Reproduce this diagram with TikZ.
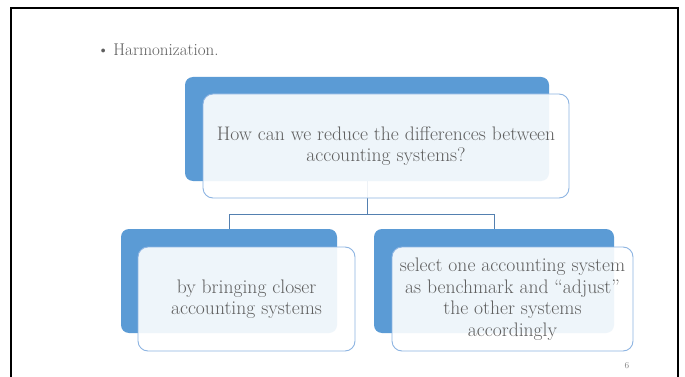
\documentclass[tikz,border=0pt]{standalone}
\usetikzlibrary{positioning}
\definecolor{backblue}{RGB}{91,155,213}
\definecolor{frontline}{RGB}{141,180,226}
\definecolor{conn}{RGB}{84,128,176}
\definecolor{txt}{RGB}{95,95,95}
\tikzset{
  backbox/.style={draw=none, fill=backblue, rounded corners=8pt, inner sep=0pt},
  frontbox/.style={draw=frontline, line width=0.9pt, fill=white, fill opacity=0.9, text opacity=1,
     rounded corners=10pt, inner sep=0pt, align=center, text=txt,
     font=\fontsize{19.6}{21.5}\selectfont},
  connector/.style={draw=conn, line width=0.8pt},
}
\begin{document}
\begin{tikzpicture}[x=1pt,y=-1pt]
\useasboundingbox (0,0) rectangle (685,377);
\fill[white] (0,0) rectangle (685,377);
% slide border
\draw[line width=2.4pt, black] (11,377) -- (11,8) -- (678,8) -- (678,377);
% title bullet
\node[anchor=west, text=txt, font=\fontsize{17}{20}\selectfont, inner sep=0pt] (title) at (97,50) {\textbullet\hspace{4pt}Harmonization.};
% back boxes
\node[backbox, minimum width=364pt, minimum height=104pt] (backT) at (367,129) {};
\node[backbox, minimum width=216pt, minimum height=104pt] (backL) at (229,281) {};
\node[backbox, minimum width=240pt, minimum height=104pt] (backR) at (494,281) {};
% connectors
\coordinate (mid) at (367,214);
\draw[connector] (backT.south) -- (mid);
\draw[connector] (mid) -| (backL.north);
\draw[connector] (mid) -| (backR.north);
% front boxes
\node[frontbox, minimum width=366pt, minimum height=104pt] (frontT) at (386,146)
  {How can we reduce the differences between\\accounting systems?};
\node[frontbox, minimum width=217pt, minimum height=104pt] (frontL) at (246.5,299)
  {by bringing closer\\accounting systems};
\node[frontbox, minimum width=241pt, minimum height=104pt] (frontR) at (512.5,299)
  {select one accounting system\\as benchmark and ``adjust''\\the other systems\\accordingly};
% page number
\node[text=gray, font=\fontsize{9}{10}\selectfont, inner sep=0pt] (pagenum) at (627,366) {6};
\end{tikzpicture}
\end{document}
